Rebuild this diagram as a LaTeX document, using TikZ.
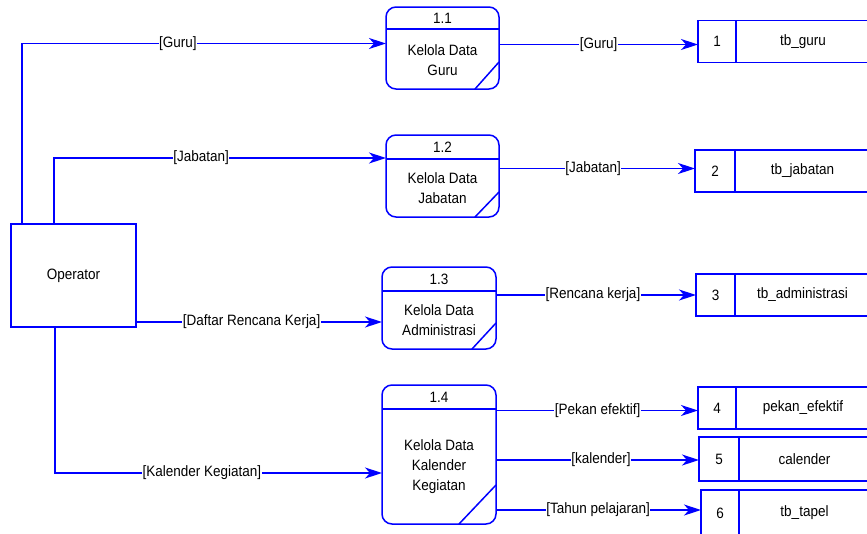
\documentclass[tikz,border=0pt]{standalone}
\usepackage{fontspec}
\setmainfont{Liberation Sans}[FakeStretch=0.9]
\usetikzlibrary{arrows.meta,calc}
\definecolor{dfdblue}{RGB}{0,0,255}
\begin{document}
\begin{tikzpicture}[x=1pt,y=-1pt,
  font=\fontsize{15}{20}\selectfont,
  box/.style={draw=dfdblue, line width=1.5pt, inner sep=0pt, outer sep=0pt},
  proc/.style={box, rounded corners=10pt},
  ptext/.style={align=center, inner sep=0pt},
  cell/.style={box, minimum height=42pt},
  flow/.style={draw=dfdblue, line width=1.4pt, -{Stealth[length=17pt,width=11pt,inset=5pt]}},
  lbl/.style={fill=white, inner sep=0.5pt},
  sep/.style={draw=dfdblue, line width=1.5pt}]
\useasboundingbox (0,0) rectangle (867,533);
\clip (0,0) rectangle (867,533);
% external entity
\node[box, minimum width=125pt, minimum height=103pt] (op) at (73.5,275.5) {Operator};
% processes
\node[proc, minimum width=113pt, minimum height=82pt] (p1) at (442.5,48) {};
\node[proc, minimum width=113pt, minimum height=82pt] (p2) at (442.5,176) {};
\node[proc, minimum width=114pt, minimum height=82pt] (p3) at (439,308) {};
\node[proc, minimum width=114pt, minimum height=139pt] (p4) at (439,454.5) {};
\node[ptext] (p1n) at (442.5,18) {1.1};
\node[ptext] (p2n) at (442.5,147) {1.2};
\node[ptext] (p3n) at (439,279) {1.3};
\node[ptext] (p4n) at (439,397) {1.4};
\node[ptext] (p1t) at (442.5,60) {Kelola Data\\Guru};
\node[ptext] (p2t) at (442.5,188) {Kelola Data\\Jabatan};
\node[ptext] (p3t) at (439,320) {Kelola Data\\Administrasi};
\node[ptext] (p4t) at (439,466.5) {Kelola Data\\Kalender\\Kegiatan};
\coordinate (d1) at (0,29);
\coordinate (d2) at (0,159);
\coordinate (d3) at (0,291);
\coordinate (d4) at (0,409);
\draw[sep] (p1.west |- d1) -- (p1.east |- d1);
\draw[sep] (p2.west |- d2) -- (p2.east |- d2);
\draw[sep] (p3.west |- d3) -- (p3.east |- d3);
\draw[sep] (p4.west |- d4) -- (p4.east |- d4);
\draw[sep] ($(p1.south east)+(-24,0)$) -- ++(24,-27);
\draw[sep] ($(p2.south east)+(-24,0)$) -- ++(24,-25);
\draw[sep] ($(p3.south east)+(-24,0)$) -- ++(24,-26);
\draw[sep] ($(p4.south east)+(-37,0)$) -- ++(37,-39);
% data stores
\node[cell, minimum width=38pt] (n1) at (717,41.5) {1};
\node[cell, minimum width=134pt] (s1) at (803,41.5) {tb\_guru};
\node[cell, minimum width=40pt] (n2) at (715,171) {2};
\node[cell, minimum width=135pt] (s2) at (802.5,171) {tb\_jabatan};
\node[cell, minimum width=39pt] (n3) at (715.5,295) {3};
\node[cell, minimum width=135pt] (s3) at (802.5,295) {tb\_administrasi};
\node[cell, minimum width=38pt] (n4) at (717,408) {4};
\node[cell, minimum width=134pt] (s4) at (803,408) {pekan\_efektif};
\node[cell, minimum width=40pt, minimum height=44pt] (n5) at (719,459) {5};
\node[cell, minimum width=131pt, minimum height=44pt] (s5) at (804.5,459) {calender};
\node[cell, minimum width=38pt, minimum height=46pt] (n6) at (720,513) {6};
\node[cell, minimum width=131pt, minimum height=46pt] (s6) at (804.5,513) {tb\_tapel};
% flows from operator
\coordinate (ga) at (22,43.5);
\coordinate (ja) at (54,158);
\coordinate (da) at (0,322);
\coordinate (ka) at (55,473);
\draw[flow] (op.north -| ga) -- (ga) -- (ga -| p1.west) node[lbl, pos=0.428] {[Guru]};
\draw[flow] (op.north -| ja) -- (ja) -- (ja -| p2.west) node[lbl, pos=0.443] {[Jabatan]};
\draw[flow] (op.east |- da) -- (p3.west |- da) node[lbl, pos=0.47] {[Daftar Rencana Kerja]};
\draw[flow] (op.south -| ka) -- (ka) -- (ka -| p4.west) node[lbl, pos=0.449] {[Kalender Kegiatan]};
% flows to stores
\coordinate (o1) at (0,44.5);
\coordinate (o2) at (0,168.5);
\coordinate (o3) at (0,295);
\coordinate (o4) at (0,410.5);
\coordinate (o5) at (0,460);
\coordinate (o6) at (0,510);
\draw[flow] (p1.east |- o1) -- (n1.west |- o1) node[lbl, pos=0.5] {[Guru]};
\draw[flow] (p2.east |- o2) -- (n2.west |- o2) node[lbl, pos=0.48] {[Jabatan]};
\draw[flow] (p3.east |- o3) -- (n3.west |- o3) node[lbl, pos=0.485] {[Rencana kerja]};
\draw[flow] (p4.east |- o4) -- (n4.west |- o4) node[lbl, pos=0.503] {[Pekan efektif]};
\draw[flow] (p4.east |- o5) -- (n5.west |- o5) node[lbl, pos=0.517] {[kalender]};
\draw[flow] (p4.east |- o6) -- (n6.west |- o6) node[lbl, pos=0.498] {[Tahun pelajaran]};
\end{tikzpicture}
\end{document}
